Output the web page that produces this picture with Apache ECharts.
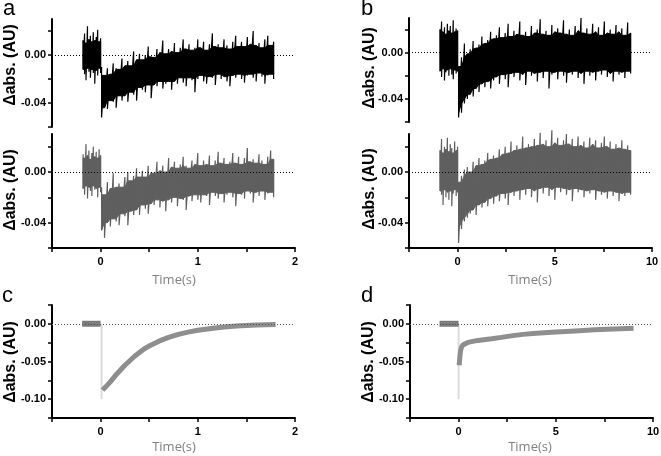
<!DOCTYPE html>
<html><head><meta charset="utf-8">
<script src="https://cdn.jsdelivr.net/npm/echarts@6/dist/echarts.min.js"></script>
<style>html,body{margin:0;padding:0;background:#fff}#c{width:661px;height:456px}</style>
</head><body><div id="c"></div>
<script>
// ---------- time grids ----------
const aPreT = [-0.18,-0.165,-0.15,-0.135,-0.12,-0.105,-0.09,-0.075,-0.06,-0.045,-0.03,-0.015,0];
const aPostT = [0.01,0.04,0.07,0.10,0.13,0.16,0.19,0.22,0.25,0.28,0.31,0.34,0.37,0.40,0.43,0.46,0.49,0.52,0.55,0.58,0.61,0.64,0.67,0.70,0.73,0.76,0.79,0.82,0.85,0.88,0.91,0.94,0.97,1.00,1.03,1.06,1.09,1.12,1.15,1.18,1.21,1.24,1.27,1.30,1.33,1.36,1.39,1.42,1.45,1.48,1.51,1.54,1.57,1.60,1.63,1.66,1.69,1.72,1.75,1.78];
const bPreT = [-0.9,-0.825,-0.75,-0.675,-0.6,-0.525,-0.45,-0.375,-0.3,-0.225,-0.15,-0.075,0];
const bPostT = [0.05,0.20,0.35,0.50,0.65,0.80,0.95,1.10,1.25,1.40,1.55,1.70,1.85,2.00,2.15,2.30,2.45,2.60,2.75,2.90,3.05,3.20,3.35,3.50,3.65,3.80,3.95,4.10,4.25,4.40,4.55,4.70,4.85,5.00,5.15,5.30,5.45,5.60,5.75,5.90,6.05,6.20,6.35,6.50,6.65,6.80,6.95,7.10,7.25,7.40,7.55,7.70,7.85,8.00,8.15,8.30,8.45,8.60,8.75,8.90];

// ---------- panel a, top trace (black): upper / lower excursions ----------
const aTopPreHi = [0.012,0.018,0.010,0.024,0.013,0.016,0.011,0.019,0.012,0.015,0.021,0.011,0.014];
const aTopPreLo = [-0.012,-0.016,-0.021,-0.011,-0.014,-0.019,-0.012,-0.015,-0.024,-0.013,-0.017,-0.011,-0.015];
const aTopHi = [-0.010,-0.017,-0.011,-0.016,-0.007,-0.011,-0.012,-0.003,-0.009,-0.005,-0.009,0.003,-0.004,0.001,-0.004,0.000,0.007,-0.001,-0.002,0.005,0.002,0.012,0.001,0.005,0.003,0.010,0.002,0.006,0.013,0.005,0.009,0.004,0.006,0.013,0.006,0.011,0.004,0.009,0.018,0.007,0.009,0.006,0.013,0.008,0.005,0.011,0.016,0.007,0.011,0.007,0.015,0.009,0.020,0.008,0.010,0.006,0.013,0.016,0.008,0.011];
const aTopLo = [-0.052,-0.044,-0.045,-0.038,-0.039,-0.044,-0.034,-0.038,-0.034,-0.039,-0.031,-0.033,-0.038,-0.027,-0.029,-0.031,-0.025,-0.036,-0.025,-0.026,-0.022,-0.028,-0.024,-0.022,-0.029,-0.022,-0.024,-0.019,-0.023,-0.026,-0.019,-0.021,-0.031,-0.020,-0.017,-0.022,-0.024,-0.018,-0.019,-0.025,-0.016,-0.020,-0.018,-0.022,-0.026,-0.017,-0.019,-0.016,-0.020,-0.023,-0.017,-0.016,-0.019,-0.022,-0.015,-0.018,-0.024,-0.017,-0.016,-0.020];

// ---------- panel a, bottom trace (grey) ----------
const aBotPreHi = [0.014,0.011,0.022,0.013,0.017,0.010,0.015,0.020,0.012,0.016,0.011,0.018,0.013];
const aBotPreLo = [-0.013,-0.018,-0.011,-0.021,-0.012,-0.015,-0.019,-0.011,-0.014,-0.013,-0.020,-0.012,-0.016];
const aBotHi = [-0.012,-0.018,-0.008,-0.013,-0.001,-0.012,-0.009,-0.012,-0.004,0.000,-0.007,-0.003,0.003,-0.004,0.001,-0.004,0.005,0.000,-0.001,0.008,0.001,0.005,0.000,0.011,0.004,0.008,0.003,0.006,0.012,0.005,0.003,0.009,0.006,0.015,0.005,0.009,0.006,0.013,0.005,0.009,0.016,0.007,0.011,0.006,0.008,0.015,0.007,0.012,0.006,0.011,0.019,0.008,0.010,0.007,0.014,0.009,0.006,0.012,0.017,0.010];
const aBotLo = [-0.046,-0.052,-0.040,-0.043,-0.037,-0.039,-0.042,-0.033,-0.035,-0.042,-0.031,-0.034,-0.030,-0.034,-0.026,-0.029,-0.033,-0.025,-0.026,-0.022,-0.028,-0.023,-0.031,-0.022,-0.024,-0.020,-0.027,-0.021,-0.022,-0.030,-0.019,-0.023,-0.018,-0.022,-0.024,-0.018,-0.019,-0.026,-0.016,-0.019,-0.021,-0.017,-0.024,-0.018,-0.016,-0.020,-0.027,-0.017,-0.018,-0.021,-0.015,-0.017,-0.024,-0.016,-0.019,-0.015,-0.022,-0.017,-0.016,-0.020];

// ---------- panel b, top trace (black) ----------
const bTopPreHi = [0.020,0.027,0.018,0.022,0.016,0.025,0.019,0.023,0.017,0.028,0.018,0.021,0.019];
const bTopPreLo = [-0.016,-0.021,-0.014,-0.024,-0.017,-0.015,-0.020,-0.014,-0.019,-0.023,-0.015,-0.018,-0.016];
const bTopHi = [-0.012,-0.004,0.008,-0.001,0.003,0.010,0.004,0.007,0.014,0.008,0.011,0.018,0.012,0.015,0.022,0.013,0.017,0.025,0.014,0.019,0.016,0.027,0.015,0.018,0.014,0.023,0.017,0.020,0.029,0.016,0.019,0.015,0.024,0.018,0.021,0.017,0.028,0.016,0.020,0.015,0.023,0.019,0.030,0.017,0.021,0.016,0.025,0.018,0.022,0.015,0.027,0.017,0.020,0.016,0.024,0.018,0.021,0.015,0.026,0.017];
const bTopLo = [-0.056,-0.052,-0.044,-0.040,-0.036,-0.038,-0.031,-0.034,-0.027,-0.030,-0.025,-0.031,-0.024,-0.021,-0.027,-0.019,-0.023,-0.030,-0.018,-0.021,-0.017,-0.024,-0.019,-0.028,-0.016,-0.020,-0.018,-0.025,-0.017,-0.022,-0.016,-0.031,-0.019,-0.017,-0.023,-0.016,-0.020,-0.026,-0.017,-0.019,-0.016,-0.022,-0.018,-0.027,-0.016,-0.020,-0.017,-0.024,-0.016,-0.019,-0.015,-0.021,-0.018,-0.025,-0.016,-0.019,-0.017,-0.022,-0.016,-0.018];

// ---------- panel b, bottom trace (grey) ----------
const bBotPreHi = [0.017,0.026,0.015,0.020,0.018,0.027,0.016,0.022,0.019,0.015,0.024,0.017,0.020];
const bBotPreLo = [-0.015,-0.018,-0.026,-0.014,-0.020,-0.016,-0.022,-0.015,-0.027,-0.017,-0.014,-0.019,-0.016];
const bBotHi = [-0.008,-0.003,0.002,0.004,0.000,0.008,0.005,0.011,0.006,0.009,0.015,0.010,0.013,0.011,0.018,0.014,0.020,0.015,0.024,0.017,0.021,0.018,0.028,0.019,0.022,0.020,0.026,0.021,0.031,0.022,0.025,0.020,0.033,0.023,0.027,0.021,0.025,0.030,0.022,0.026,0.020,0.028,0.021,0.024,0.019,0.027,0.022,0.025,0.019,0.023,0.028,0.020,0.024,0.018,0.022,0.019,0.025,0.018,0.021,0.017];
const bBotLo = [-0.056,-0.045,-0.039,-0.036,-0.033,-0.030,-0.034,-0.026,-0.028,-0.024,-0.027,-0.021,-0.025,-0.019,-0.023,-0.017,-0.021,-0.026,-0.016,-0.019,-0.015,-0.022,-0.014,-0.018,-0.013,-0.020,-0.015,-0.024,-0.013,-0.017,-0.012,-0.019,-0.014,-0.022,-0.012,-0.016,-0.013,-0.018,-0.014,-0.023,-0.013,-0.016,-0.014,-0.020,-0.015,-0.017,-0.014,-0.022,-0.015,-0.018,-0.016,-0.021,-0.015,-0.019,-0.016,-0.023,-0.017,-0.019,-0.016,-0.018];

// ---------- panel c (averaged, short time base) ----------
const cPreT = [-0.19,-0.1,0];
const cPreV = [0,0,0];
const cPostT = [0.02,0.05,0.1,0.15,0.2,0.25,0.3,0.35,0.4,0.45,0.5,0.6,0.7,0.8,0.9,1.0,1.1,1.2,1.3,1.4,1.5,1.6,1.7,1.8];
const cPostV = [-0.088,-0.084,-0.077,-0.069,-0.062,-0.055,-0.049,-0.043,-0.038,-0.033,-0.0295,-0.023,-0.018,-0.014,-0.011,-0.0085,-0.0068,-0.0053,-0.004,-0.003,-0.0022,-0.0016,-0.0012,-0.001];
const cFlashT = 0.01;
const cFlashRange = [0, -0.10];

// ---------- panel d (averaged, long time base) ----------
const dPreT = [-0.98,-0.5,0];
const dPreV = [0,0,0];
const dPostT = [0.03,0.06,0.1,0.15,0.22,0.3,0.45,0.6,0.8,1.0,1.3,1.7,2.2,2.7,3.3,4.0,5.0,6.0,7.0,8.0,9.0];
const dPostV = [-0.055,-0.045,-0.036,-0.031,-0.028,-0.026,-0.025,-0.024,-0.023,-0.022,-0.021,-0.0198,-0.018,-0.016,-0.014,-0.0125,-0.011,-0.0095,-0.008,-0.007,-0.006];
const dFlashT = 0.0;
const dFlashRange = [0, -0.10];

// ---------- axes ----------
const abYRange = [-0.06, 0.03];
const abYTicks = [-0.06,-0.04,-0.02,0,0.02];
const abYLabels = [-0.04, 0];
const cdYRange = [-0.125, 0.025];
const cdYTicks = [-0.125,-0.1,-0.075,-0.05,-0.025,0,0.025];
const cdYLabels = [-0.10,-0.05,0];
const aXRange = [-0.5, 2];
const aXTicks = [-0.5,0,0.5,1,1.5,2];
const aXLabels = [0,1,2];
const bXRange = [-2.5, 10];
const bXTicks = [-2.5,0,2.5,5,7.5,10];
const bXLabels = [0,5,10];

const FONT = '"Liberation Sans", Arial, sans-serif';

const grids = [
  {left:52, top:19, width:243, height:108},   // a top
  {left:52, top:134, width:243, height:114},  // a bottom
  {left:409, top:18, width:243, height:104},  // b top
  {left:409, top:134, width:243, height:114}, // b bottom
  {left:52, top:305, width:243, height:113},  // c
  {left:410, top:305, width:243, height:113}  // d
].map(g => Object.assign({containLabel:false, outerBoundsMode:'none'}, g));

function xAx(gi, range, ticks, labels, show) {
  return {
    type:'value', gridIndex:gi, min:range[0], max:range[1],
    splitLine:{show:false},
    axisLine:{show:show, onZero:false, lineStyle:{color:'#000', width:2}},
    axisTick:{show:show, length:4, lineStyle:{color:'#000', width:1.5}, customValues:ticks},
    axisLabel:{show:show, margin:8, customValues:labels, color:'#000',
      fontFamily:FONT, fontWeight:'bold', fontSize:11, formatter:v=>String(Math.round(v))}
  };
}
function yAx(gi, range, ticks, labels) {
  return {
    type:'value', gridIndex:gi, min:range[0], max:range[1],
    splitLine:{show:false},
    axisLine:{show:true, onZero:false, lineStyle:{color:'#000', width:2}},
    axisTick:{show:true, length:4, lineStyle:{color:'#000', width:1.5}, customValues:ticks},
    axisLabel:{show:true, margin:6, customValues:labels, color:'#000',
      fontFamily:FONT, fontWeight:'bold', fontSize:11, formatter:v=>v.toFixed(2)}
  };
}

const xAxis = [
  xAx(0, aXRange, aXTicks, aXLabels, false),
  xAx(1, aXRange, aXTicks, aXLabels, true),
  xAx(2, bXRange, bXTicks, bXLabels, false),
  xAx(3, bXRange, bXTicks, bXLabels, true),
  xAx(4, aXRange, aXTicks, aXLabels, true),
  xAx(5, bXRange, bXTicks, bXLabels, true)
];
const yAxis = [
  yAx(0, abYRange, abYTicks, abYLabels),
  yAx(1, abYRange, abYTicks, abYLabels),
  yAx(2, abYRange, abYTicks, abYLabels),
  yAx(3, abYRange, abYTicks, abYLabels),
  yAx(4, cdYRange, cdYTicks, cdYLabels),
  yAx(5, cdYRange, cdYTicks, cdYLabels)
];

// noisy trace: solid core (inner envelope of neighbouring samples) + sawtooth spikes
function noisy(i, t, hi, lo, color) {
  return {
    type:'custom', xAxisIndex:i, yAxisIndex:i, z:3, silent:true,
    data:[[t[0], hi[0]]],
    renderItem:function(params, api){
      const n = t.length, up = [], dn = [], saw = [];
      for (let k=0;k<n;k++) {
        const a = Math.max(0,k-1), b = Math.min(n-1,k+1);
        up.push(api.coord([t[k], Math.min(hi[a],hi[k],hi[b])]));
        dn.push(api.coord([t[k], Math.max(lo[a],lo[k],lo[b])]));
        saw.push(api.coord([t[k], hi[k]]));
        saw.push(api.coord([t[k], lo[k]]));
      }
      return {type:'group', children:[
        {type:'polygon', shape:{points:up.concat(dn.reverse())}, style:{fill:color, stroke:color, lineWidth:1}},
        {type:'polyline', shape:{points:saw}, style:{stroke:color, fill:null, lineWidth:1.2}}
      ]};
    }
  };
}
function zip(t, v){ return t.map((x,k)=>[x, v[k]]); }
function curve(i, t, v, color, w, z) {
  return {type:'line', xAxisIndex:i, yAxisIndex:i, data:zip(t,v), showSymbol:false, symbol:'none',
    silent:true, z:z, lineStyle:{color:color, width:w, cap:'butt'}};
}
function zeroLine(i, color, z) {
  return {type:'line', xAxisIndex:i, yAxisIndex:i, data:[], silent:true, z:z,
    markLine:{silent:true, symbol:'none', label:{show:false}, animation:false,
      lineStyle:{color:color, width:1, type:[1,2]}, data:[{yAxis:0}]}};
}

const series = [
  zeroLine(0,'#000',1), zeroLine(1,'#000',1), zeroLine(2,'#000',1), zeroLine(3,'#000',1),
  noisy(0, aPreT, aTopPreHi, aTopPreLo, '#000'),
  noisy(0, aPostT, aTopHi, aTopLo, '#000'),
  noisy(1, aPreT, aBotPreHi, aBotPreLo, '#5f5f5f'),
  noisy(1, aPostT, aBotHi, aBotLo, '#5f5f5f'),
  noisy(2, bPreT, bTopPreHi, bTopPreLo, '#000'),
  noisy(2, bPostT, bTopHi, bTopLo, '#000'),
  noisy(3, bPreT, bBotPreHi, bBotPreLo, '#5f5f5f'),
  noisy(3, bPostT, bBotHi, bBotLo, '#5f5f5f'),
  curve(4, [cFlashT, cFlashT], cFlashRange, '#dcdcdc', 2, 2),
  curve(4, cPreT, cPreV, '#7c7c7c', 6, 3),
  curve(4, cPostT, cPostV, '#8e8e8e', 5, 3),
  curve(5, [dFlashT, dFlashT], dFlashRange, '#dcdcdc', 2, 2),
  curve(5, dPreT, dPreV, '#7c7c7c', 6, 3),
  curve(5, dPostT, dPostV, '#8e8e8e', 5, 3),
  zeroLine(4,'#555',5), zeroLine(5,'#555',5)
];

function txt(x, y, s, font, fill, align, rot) {
  return {type:'text', x:x, y:y, rotation:rot||0, silent:true, z:10,
    style:{text:s, font:font, fill:fill, align:align||'center', verticalAlign:'middle'}};
}
const yName = 'Δabs. (AU)';
const yFont = 'bold 16px ' + FONT;
const lFont = '22px ' + FONT;
const tFont = '13px "Open Sans", sans-serif';
const graphic = [
  txt(3, 9, 'a', lFont, '#000', 'left'),
  txt(361, 9, 'b', lFont, '#000', 'left'),
  txt(2, 296, 'c', lFont, '#000', 'left'),
  txt(361, 296, 'd', lFont, '#000', 'left'),
  txt(11, 65, yName, yFont, '#000', 'center', Math.PI/2),
  txt(11, 190, yName, yFont, '#000', 'center', Math.PI/2),
  txt(370, 68, yName, yFont, '#000', 'center', Math.PI/2),
  txt(370, 189, yName, yFont, '#000', 'center', Math.PI/2),
  txt(11, 362, yName, yFont, '#000', 'center', Math.PI/2),
  txt(369, 362, yName, yFont, '#000', 'center', Math.PI/2),
  txt(174, 280, 'Time(s)', tFont, '#808080'),
  txt(530, 280, 'Time(s)', tFont, '#808080'),
  txt(174, 447, 'Time(s)', tFont, '#808080'),
  txt(530, 447, 'Time(s)', tFont, '#808080')
];

const chart = echarts.init(document.getElementById('c'), null, {renderer:'canvas'});
chart.setOption({
  animation:false,
  backgroundColor:'#fff',
  grid:grids, xAxis:xAxis, yAxis:yAxis, series:series, graphic:graphic
});
</script></body></html>
